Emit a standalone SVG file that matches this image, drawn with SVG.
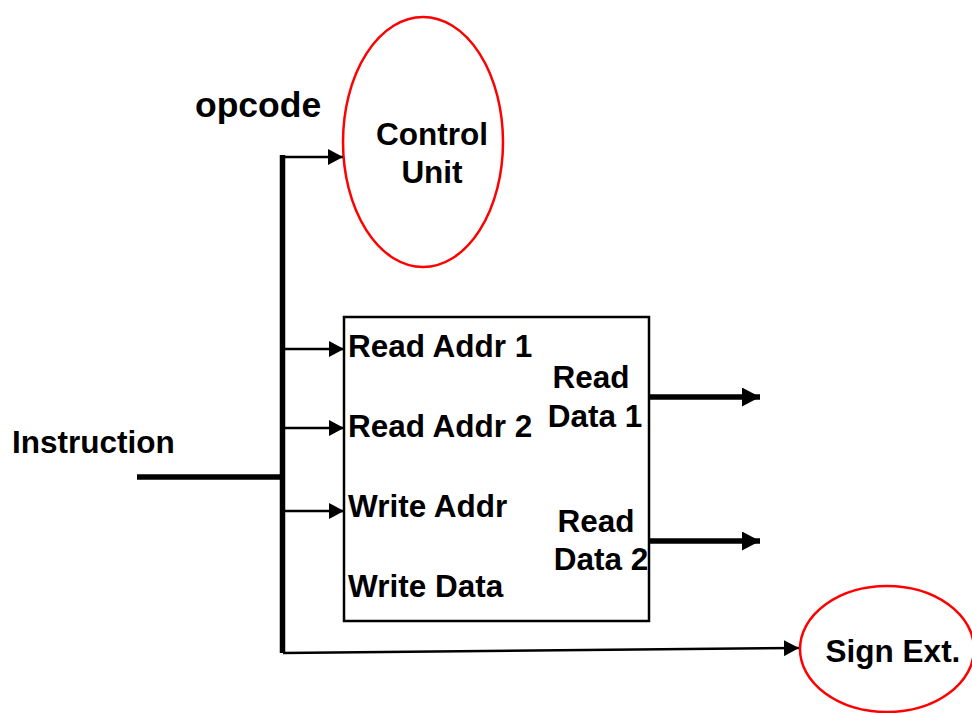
<svg xmlns="http://www.w3.org/2000/svg" width="972" height="713" viewBox="0 0 972 713">
  <style>
    text { font-family: "Liberation Sans", Arial, sans-serif; font-weight: bold; fill: #000; font-size: 31.5px; }
    text.big { font-size: 35.5px; }
    .unit { fill: #fff; stroke: #ff0000; stroke-width: 2.5; }
    .box { fill: #fff; stroke: #000; stroke-width: 2.5; }
    .thin { stroke: #000; stroke-width: 2.5; fill: none; }
    .thick { stroke: #000; stroke-width: 5.5; fill: none; }
  </style>
  <defs>
    <marker id="headThin" markerUnits="userSpaceOnUse" markerWidth="15" markerHeight="16" refX="15" refY="8" orient="auto">
      <path d="M0,0 L15,8 L0,16 z" fill="#000"/>
    </marker>
    <marker id="headThick" markerUnits="userSpaceOnUse" markerWidth="18" markerHeight="19" refX="18" refY="9.5" orient="auto">
      <path d="M0,0 L18,9.5 L0,19 z" fill="#000"/>
    </marker>
  </defs>

  <g id="control-unit">
    <ellipse class="unit" cx="423" cy="142" rx="80" ry="125"/>
    <text x="432" y="145" text-anchor="middle">Control</text>
    <text x="432" y="183" text-anchor="middle">Unit</text>
  </g>

  <g id="register-file">
    <rect class="box" x="344" y="317" width="305" height="304"/>
    <text x="348" y="357">Read Addr 1</text>
    <text x="348" y="437">Read Addr 2</text>
    <text x="348" y="517">Write Addr</text>
    <text x="348" y="597">Write Data</text>
    <text x="591" y="388" text-anchor="middle">Read</text>
    <text x="595" y="427" text-anchor="middle">Data 1</text>
    <text x="596" y="532" text-anchor="middle">Read</text>
    <text x="601" y="570" text-anchor="middle">Data 2</text>
  </g>

  <g id="sign-ext">
    <ellipse class="unit" cx="887" cy="649" rx="87" ry="63"/>
    <text x="893" y="662" text-anchor="middle">Sign Ext.</text>
  </g>

  <g id="labels">
    <text class="big" x="195" y="117">opcode</text>
    <text x="12" y="453">Instruction</text>
  </g>

  <g id="connectors">
    <!-- instruction bus -->
    <line class="thick" x1="137" y1="477" x2="284" y2="477"/>
    <line class="thick" x1="282.5" y1="155" x2="282.5" y2="653"/>
    <!-- opcode to control -->
    <line class="thin" x1="283" y1="157" x2="343" y2="157" marker-end="url(#headThin)"/>
    <!-- register inputs -->
    <line class="thin" x1="283" y1="349" x2="344" y2="349" marker-end="url(#headThin)"/>
    <line class="thin" x1="283" y1="428" x2="344" y2="428" marker-end="url(#headThin)"/>
    <line class="thin" x1="283" y1="511" x2="344" y2="511" marker-end="url(#headThin)"/>
    <!-- register outputs -->
    <line class="thick" x1="649" y1="397" x2="760" y2="397" marker-end="url(#headThick)"/>
    <line class="thick" x1="649" y1="541" x2="760" y2="541" marker-end="url(#headThick)"/>
    <!-- immediate to sign extend -->
    <line class="thin" x1="283" y1="653" x2="799" y2="648" marker-end="url(#headThin)"/>
  </g>
</svg>
